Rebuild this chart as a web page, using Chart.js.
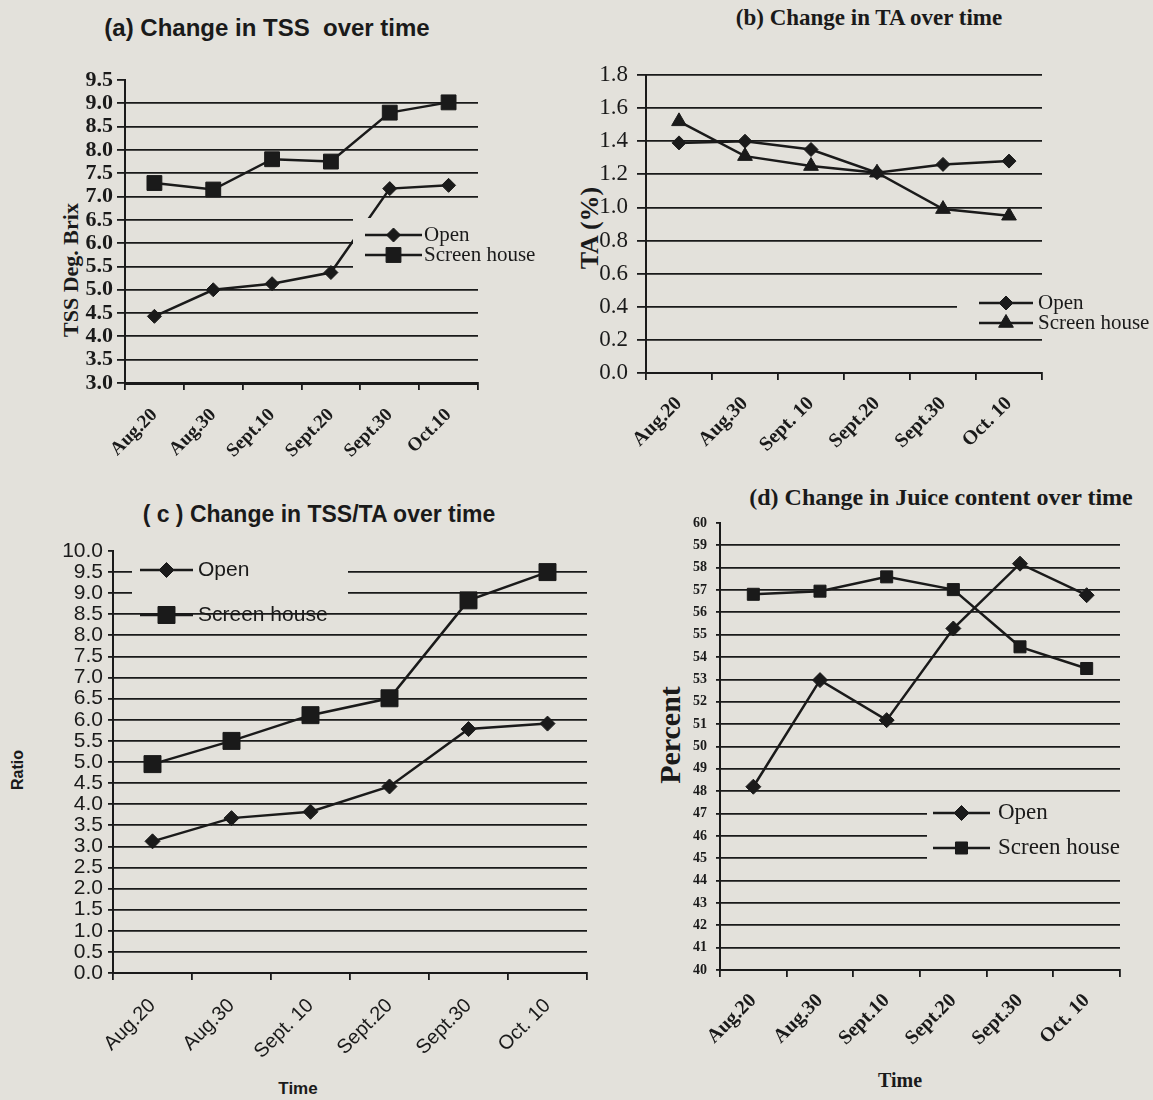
<!DOCTYPE html>
<html>
<head>
<meta charset="utf-8">
<script src="https://cdn.jsdelivr.net/npm/chart.js@4.4.1/dist/chart.umd.min.js"></script>
<style>
  body { margin: 0; background: #e3e1db; }
  #page { position: relative; width: 1153px; height: 1100px; overflow: hidden; background: #e3e1db; }
  .panel { position: absolute; }
  .txt { position: absolute; white-space: nowrap; color: #1a1a1a; font-weight: bold; transform: translate(-50%, -50%); }
  .rot { transform: translate(-50%, -50%) rotate(-90deg); }
  .sans { font-family: "Liberation Sans", Arial, sans-serif; }
  .serif { font-family: "Liberation Serif", "Times New Roman", serif; }
</style>
</head>
<body>
<div id="page">
  <div class="txt sans" style="left:267px;top:28px;font-size:24px">(a) Change in TSS&nbsp; over time</div>
  <div class="txt serif" style="left:869px;top:18px;font-size:23px">(b) Change in TA over time</div>
  <div class="txt sans" style="left:319px;top:514px;font-size:23px">( c ) Change in TSS/TA over time</div>
  <div class="txt serif" style="left:941px;top:497px;font-size:24px">(d) Change in Juice content over time</div>

  <div class="txt serif rot" style="left:71px;top:270px;font-size:22px">TSS Deg. Brix</div>
  <div class="txt serif rot" style="left:590px;top:228px;font-size:26px">TA (%)</div>
  <div class="txt sans rot" style="left:18px;top:770px;font-size:16px">Ratio</div>
  <div class="txt sans" style="left:298px;top:1089px;font-size:17px">Time</div>
  <div class="txt serif rot" style="left:670px;top:735px;font-size:30px">Percent</div>
  <div class="txt serif" style="left:900px;top:1080px;font-size:20px">Time</div>

  <div class="panel" style="left:0px;top:40px"><canvas id="chartA" width="560" height="460"></canvas></div>
  <div class="panel" style="left:576px;top:35px"><canvas id="chartB" width="577" height="445"></canvas></div>
  <div class="panel" style="left:0px;top:530px"><canvas id="chartC" width="600" height="570"></canvas></div>
  <div class="panel" style="left:640px;top:480px"><canvas id="chartD" width="513" height="620"></canvas></div>
</div>

<script>
// sampling dates (tick labels as printed in each panel)
const datesA = ["Aug.20", "Aug.30", "Sept.10", "Sept.20", "Sept.30", "Oct.10"];
const datesB = ["Aug.20", "Aug.30", "Sept. 10", "Sept.20", "Sept.30", "Oct. 10"];
const datesC = ["Aug.20", "Aug.30", "Sept. 10", "Sept.20", "Sept.30", "Oct. 10"];
const datesD = ["Aug.20", "Aug.30", "Sept.10", "Sept.20", "Sept.30", "Oct. 10"];

// (a) TSS, deg Brix
const tssOpen = [4.43, 5.0, 5.13, 5.37, 7.17, 7.24];
const tssScreen = [7.29, 7.15, 7.8, 7.75, 8.8, 9.02];

// (b) TA, %
const taOpen = [1.39, 1.40, 1.35, 1.21, 1.26, 1.28];
const taScreen = [1.52, 1.31, 1.25, 1.21, 0.99, 0.95];

// (c) TSS/TA ratio
const ratioOpen = [3.12, 3.67, 3.82, 4.42, 5.78, 5.91];
const ratioScreen = [4.95, 5.5, 6.11, 6.51, 8.83, 9.5];

// (d) juice content, percent
const juiceOpen = [48.2, 52.97, 51.18, 55.28, 58.18, 56.77];
const juiceScreen = [56.81, 56.95, 57.59, 57.02, 54.46, 53.49];

const ink = "#1a1a1a";
const paper = "#e3e1db";
const SERIF = "'Liberation Serif', 'Times New Roman', serif";
const SANS = "'Liberation Sans', Arial, sans-serif";

// legend drawn inside the plot, on a paper-coloured patch that hides the grid behind it
const boxLegend = {
    id: "boxLegend",
    afterDatasetsDraw(chart, args, opts) {
        if (!opts.items) return;
        const ctx = chart.ctx;
        ctx.save();
        const b = opts.box;
        ctx.fillStyle = paper;
        ctx.fillRect(b[0], b[1], b[2], b[3]);
        chart.data.datasets.forEach((ds, i) => {
            const it = opts.items[i];
            ctx.strokeStyle = ink;
            ctx.fillStyle = ink;
            ctx.lineWidth = 2.5;
            ctx.beginPath();
            ctx.moveTo(it.x1, it.y);
            ctx.lineTo(it.x2, it.y);
            ctx.stroke();
            ctx.lineWidth = 1;
            Chart.helpers.drawPoint(ctx, { pointStyle: ds.pointStyle, radius: ds.pointRadius, borderWidth: 1, rotation: 0 }, (it.x1 + it.x2) / 2, it.y);
            ctx.font = opts.font;
            ctx.textAlign = "left";
            ctx.textBaseline = "middle";
            ctx.fillText(ds.label, opts.textX, it.y);
        });
        ctx.restore();
    }
};
Chart.register(boxLegend);

function series(label, data, style, radius) {
    return {
        label: label,
        data: data,
        borderColor: ink,
        backgroundColor: ink,
        borderWidth: 2.5,
        tension: 0,
        pointStyle: style,
        pointRadius: radius,
        pointBackgroundColor: ink,
        pointBorderColor: ink,
        pointBorderWidth: 1,
        clip: false
    };
}

function makeChart(id, p) {
    const top = p.max;
    new Chart(document.getElementById(id), {
        type: "line",
        data: { labels: p.labels, datasets: p.datasets },
        options: {
            responsive: false,
            animation: false,
            layout: { padding: { top: p.padTop, right: p.padRight, left: 0, bottom: 0 } },
            plugins: {
                legend: { display: false },
                tooltip: { enabled: false },
                boxLegend: p.legend
            },
            scales: {
                x: {
                    offset: true,
                    grid: { offset: true, drawOnChartArea: false, color: ink, lineWidth: 1.8, tickLength: 7 },
                    border: { color: ink, width: p.xBorder },
                    ticks: { autoSkip: false, minRotation: 45, maxRotation: 45, color: ink, font: p.xFont, padding: p.xPad },
                    afterFit: s => { s.height = p.xHeight; }
                },
                y: {
                    min: p.min,
                    max: p.max,
                    grid: {
                        color: c => (p.hideTop && c.tick && Math.abs(c.tick.value - top) < 1e-6) ? "rgba(0,0,0,0)" : ink,
                        tickColor: ink,
                        lineWidth: 1.8,
                        tickLength: p.yTick
                    },
                    border: { color: ink, width: 2 },
                    ticks: { autoSkip: false, stepSize: p.step, color: ink, font: p.yFont, padding: p.yPad, callback: v => v.toFixed(p.dec) },
                    afterFit: s => { s.width = p.yWidth; }
                }
            }
        }
    });
}

makeChart("chartA", {
    labels: datesA,
    datasets: [series("Open", tssOpen, "rectRot", 7), series("Screen house", tssScreen, "rect", 10.5)],
    min: 3, max: 9.5, step: 0.5, dec: 1, hideTop: true,
    padTop: 40, padRight: 82, yWidth: 125, xHeight: 117, xBorder: 3,
    yTick: 8, yPad: 4, xPad: 14,
    yFont: { family: SERIF, size: 22, weight: "bold" },
    xFont: { family: SERIF, size: 19, weight: "bold" },
    legend: {
        box: [353, 178, 207, 50], textX: 424, font: "21px " + SERIF,
        items: [{ x1: 365, x2: 422, y: 195 }, { x1: 365, x2: 422, y: 215 }]
    }
});

makeChart("chartB", {
    labels: datesB,
    datasets: [series("Open", taOpen, "rectRot", 7), series("Screen house", taScreen, "triangle", 8.5)],
    min: 0, max: 1.8, step: 0.2, dec: 1, hideTop: false,
    padTop: 40, padRight: 111, yWidth: 70, xHeight: 107, xBorder: 2,
    yTick: 9, yPad: 9, xPad: 12,
    yFont: { family: SERIF, size: 23 },
    xFont: { family: SERIF, size: 20, weight: "bold" },
    legend: {
        box: [381, 255, 196, 45], textX: 462, font: "21px " + SERIF,
        items: [{ x1: 403, x2: 457, y: 268 }, { x1: 403, x2: 457, y: 288 }]
    }
});

makeChart("chartC", {
    labels: datesC,
    datasets: [series("Open", ratioOpen, "rectRot", 7.5), series("Screen house", ratioScreen, "rect", 12)],
    min: 0, max: 10, step: 0.5, dec: 1, hideTop: true,
    padTop: 21, padRight: 10, yWidth: 113, xHeight: 127, xBorder: 2,
    yTick: 5, yPad: 5, xPad: 14,
    yFont: { family: SANS, size: 21 },
    xFont: { family: SANS, size: 20 },
    legend: {
        box: [132, 23, 216, 53], textX: 198, font: "21px " + SANS,
        items: [{ x1: 140, x2: 193, y: 40 }, { x1: 140, x2: 193, y: 85 }]
    }
});

makeChart("chartD", {
    labels: datesD,
    datasets: [series("Open", juiceOpen, "rectRot", 7.5), series("Screen house", juiceScreen, "rect", 8.5)],
    min: 40, max: 60, step: 1, dec: 0, hideTop: true,
    padTop: 43, padRight: 33, yWidth: 80, xHeight: 130, xBorder: 2,
    yTick: 4, yPad: 9, xPad: 12,
    yFont: { family: SERIF, size: 14, weight: "bold" },
    xFont: { family: SERIF, size: 20, weight: "bold" },
    legend: {
        box: [287, 315, 200, 67], textX: 358, font: "23px " + SERIF,
        items: [{ x1: 293, x2: 350, y: 333 }, { x1: 293, x2: 350, y: 368 }]
    }
});
</script>
</body>
</html>
